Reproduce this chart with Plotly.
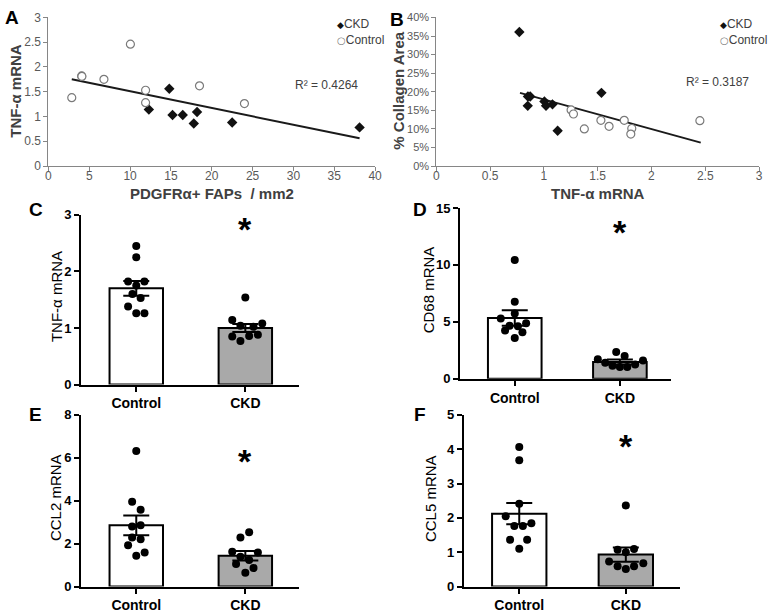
import plotly.graph_objects as go

W, H = 769, 616
FONT = "Liberation Sans, Arial, Helvetica, sans-serif"

# ---------------- data ----------------
# Panel A: TNF-a mRNA vs PDGFRa+ FAPs / mm2
a_ckd_fap = [14.8, 12.3, 15.2, 16.45, 18.2, 17.8, 22.5, 38.1]
a_ckd_tnf = [1.56, 1.14, 1.03, 1.03, 1.09, 0.86, 0.88, 0.78]
a_ctl_fap = [2.86, 4.07, 4.1, 6.8, 10.04, 11.9, 11.9, 18.5, 24.0]
a_ctl_tnf = [1.38, 1.82, 1.81, 1.75, 2.46, 1.53, 1.28, 1.62, 1.26]
a_trend_x = [2.86, 38.1]
a_trend_y = [1.75, 0.56]
a_r2 = "R² = 0.4264"

# Panel B: % collagen area vs TNF-a mRNA
b_ckd_tnf = [0.772, 0.85, 0.852, 0.873, 1.005, 1.02, 1.08, 1.128, 1.535]
b_ckd_col = [0.361, 0.162, 0.187, 0.187, 0.174, 0.162, 0.166, 0.095, 0.197]
b_ctl_tnf = [1.253, 1.275, 1.376, 1.53, 1.606, 1.747, 1.817, 1.808, 2.45]
b_ctl_col = [0.151, 0.140, 0.100, 0.123, 0.107, 0.123, 0.101, 0.086, 0.122]
b_trend_x = [0.778, 2.458]
b_trend_y = [0.197, 0.063]
b_r2 = "R² = 0.3187"

legend_names = ["CKD", "Control"]
groups = ["Control", "CKD"]

# Panel C: TNF-a mRNA
c_mean = [1.70, 1.00]
c_sem = [0.13, 0.07]
c_ctl = [2.45, 2.25, 1.82, 1.82, 1.75, 1.60, 1.53, 1.38, 1.26, 1.26]
c_ctl_jit = [0.0, 0.0, -0.075, 0.075, 0.0, -0.035, 0.04, -0.075, 0.0, 0.075]
c_ckd = [1.54, 1.14, 1.08, 1.02, 1.04, 0.85, 0.86, 0.88, 0.77]
c_ckd_jit = [0.0, -0.12, 0.155, 0.075, -0.045, -0.12, 0.035, 0.115, -0.045]

# Panel D: CD68 mRNA
d_mean = [5.33, 1.46]
d_sem = [0.68, 0.22]
d_ctl = [10.43, 6.77, 5.74, 5.28, 4.88, 4.66, 4.60, 4.23, 4.08, 3.57]
d_ctl_jit = [0.0, 0.0, 0.0, -0.133, 0.108, -0.049, 0.03, -0.092, 0.073, 0.0]
d_ckd = [2.34, 2.00, 1.71, 1.60, 1.40, 1.26, 1.14, 1.03, 1.03]
d_ckd_jit = [-0.035, 0.045, -0.21, 0.22, -0.14, 0.145, -0.07, 0.0, 0.07]

# Panel E: CCL2 mRNA
e_mean = [2.85, 1.43]
e_sem = [0.46, 0.22]
e_ctl = [6.32, 3.95, 3.58, 2.80, 2.86, 2.29, 2.20, 1.92, 1.59, 1.44]
e_ctl_jit = [0.0, -0.038, 0.04, -0.038, 0.04, -0.038, 0.04, -0.075, 0.077, 0.0]
e_ckd = [2.53, 2.29, 1.62, 1.59, 1.39, 1.24, 1.05, 0.86, 0.64]
e_ckd_jit = [0.035, -0.045, -0.12, 0.115, -0.045, 0.035, -0.085, 0.075, 0.0]

# Panel F: CCL5 mRNA
f_mean = [2.12, 0.93]
f_sem = [0.31, 0.21]
f_ctl = [4.06, 3.68, 2.41, 2.05, 1.84, 1.76, 1.76, 1.36, 1.36, 1.10]
f_ctl_jit = [0.0, 0.0, 0.0, -0.127, 0.114, -0.046, 0.034, -0.086, 0.074, 0.0]
f_ckd = [2.36, 1.07, 1.09, 1.00, 0.73, 0.68, 0.59, 0.51, 0.59]
f_ckd_jit = [0.0, -0.077, 0.077, 0.0, -0.157, 0.164, -0.077, 0.0, 0.077]

star_y = {"C": 2.87, "D": 13.5, "E": 6.17, "F": 4.3}


def px(x):
    return x / W


def py(y):
    return 1 - y / H


fig = go.Figure()
annotations = []

GRAY_AX = "#868686"
GRAY_TXT = "#595959"
DARK_TXT = "#404040"

# ---------------- scatter panels ----------------
def scatter_panel(idx, ckd_x, ckd_y, ctl_x, ctl_y, tx, ty):
    xa = "x" if idx == 1 else f"x{idx}"
    ya = "y" if idx == 1 else f"y{idx}"
    fig.add_trace(go.Scatter(x=tx, y=ty, mode="lines", xaxis=xa, yaxis=ya,
                             line=dict(color="#1a1a1a", width=2), showlegend=False,
                             hoverinfo="skip"))
    fig.add_trace(go.Scatter(x=ckd_x, y=ckd_y, mode="markers", name=legend_names[0],
                             xaxis=xa, yaxis=ya, showlegend=False,
                             marker=dict(symbol="diamond", size=8, color="#111111")))
    fig.add_trace(go.Scatter(x=ctl_x, y=ctl_y, mode="markers", name=legend_names[1],
                             xaxis=xa, yaxis=ya, showlegend=False,
                             marker=dict(symbol="circle", size=8, color="white",
                                         line=dict(color="#7a7a7a", width=1.2))))


scatter_panel(1, a_ckd_fap, a_ckd_tnf, a_ctl_fap, a_ctl_tnf, a_trend_x, a_trend_y)
scatter_panel(2, b_ckd_tnf, b_ckd_col, b_ctl_tnf, b_ctl_col, b_trend_x, b_trend_y)

sc_axis = dict(showline=True, linecolor=GRAY_AX, linewidth=1, ticks="outside",
               ticklen=4, tickcolor=GRAY_AX, showgrid=False, zeroline=False,
               tickfont=dict(family=FONT, size=12, color=GRAY_TXT))

layout = dict(
    width=W, height=H, margin=dict(l=0, r=0, t=0, b=0),
    paper_bgcolor="white", plot_bgcolor="white", showlegend=False,
    font=dict(family=FONT),
    xaxis=dict(sc_axis, domain=[px(46), px(377)], range=[0, 40], dtick=5, anchor="y",
               ticklabelstandoff=-5),
    yaxis=dict(sc_axis, domain=[py(163), py(10.7)], range=[0, 3], dtick=0.5, anchor="x"),
    xaxis2=dict(sc_axis, domain=[px(439), px(766)], range=[0, 3], dtick=0.5, anchor="y2",
                ticklabelstandoff=-5),
    yaxis2=dict(sc_axis, domain=[py(163), py(10.7)], range=[0, 0.4], dtick=0.05,
                tickformat=".0%", anchor="x2",
                tickfont=dict(family=FONT, size=11, color=GRAY_TXT)),
)

annotations += [
    dict(text=a_r2, xref="x", yref="y", x=30, y=1.64, xanchor="left", yanchor="middle",
         showarrow=False, font=dict(family=FONT, size=12, color=DARK_TXT)),
    dict(text=b_r2, xref="x2", yref="y2", x=2.3, y=0.225, xanchor="left", yanchor="middle",
         showarrow=False, font=dict(family=FONT, size=12, color=DARK_TXT)),
]

# legends (drawn as text with symbol glyphs)
for lx in (336, 724):
    annotations.append(dict(
        text=f"<span style='font-family:DejaVu Sans;font-size:9px;color:#111'>◆</span>{legend_names[0]}",
        xref="paper", yref="paper", x=px(lx), y=py(17), xanchor="left", yanchor="middle",
        showarrow=False, font=dict(family=FONT, size=12, color=DARK_TXT)))
    annotations.append(dict(
        text=f"<span style='font-family:DejaVu Sans;font-size:10px;color:#7a7a7a'>○</span>{legend_names[1]}",
        xref="paper", yref="paper", x=px(lx), y=py(34), xanchor="left", yanchor="middle",
        showarrow=False, font=dict(family=FONT, size=12, color=DARK_TXT)))

# ---------------- bar panels ----------------
bar_panels = [
    (3, c_mean, c_sem, c_ctl, c_ctl_jit, c_ckd, c_ckd_jit, [0, 3], 1, [-0.507, 1.493], 0.49,
     [px(79), px(300)], [py(387), py(213)], "C"),
    (4, d_mean, d_sem, d_ctl, d_ctl_jit, d_ckd, d_ckd_jit, [0, 15], 5, [-0.521, 1.488], 0.51,
     [px(463), px(677)], [py(381), py(206)], "D"),
    (5, e_mean, e_sem, e_ctl, e_ctl_jit, e_ckd, e_ckd_jit, [0, 8], 2, [-0.507, 1.493], 0.49,
     [px(79), px(300)], [py(594), py(418)], "E"),
    (6, f_mean, f_sem, f_ctl, f_ctl_jit, f_ckd, f_ckd_jit, [0, 5], 1, [-0.519, 1.509], 0.51,
     [px(467), px(686)], [py(594), py(418)], "F"),
]

bar_axis = dict(showline=True, linecolor="black", linewidth=2, ticks="outside",
                ticklen=5, tickwidth=2, tickcolor="black", showgrid=False, zeroline=False,
                tickfont=dict(family=FONT, size=13, color="black", weight="bold"))

for (idx, mean, sem, ctl, ctl_jit, ckd, ckd_jit, yr, dt, xr, bw, dx, dy, key) in bar_panels:
    xa, ya = f"x{idx}", f"y{idx}"
    fig.add_trace(go.Bar(x=[0, 1], y=mean, width=bw, xaxis=xa, yaxis=ya, showlegend=False,
                         marker=dict(color=["white", "#a9a9a9"],
                                     line=dict(color="black", width=2)),
                         error_y=dict(type="data", array=sem, color="black",
                                      thickness=2, width=13)))
    fig.add_trace(go.Scatter(x=[0 + j for j in ctl_jit], y=ctl, mode="markers",
                             xaxis=xa, yaxis=ya, showlegend=False,
                             marker=dict(size=8, color="black")))
    fig.add_trace(go.Scatter(x=[1 + j for j in ckd_jit], y=ckd, mode="markers",
                             xaxis=xa, yaxis=ya, showlegend=False,
                             marker=dict(size=8, color="black")))
    layout[f"xaxis{idx}"] = dict(bar_axis, domain=dx, range=xr, tickvals=[0, 1],
                                 ticktext=groups, anchor=ya,
                                 tickfont=dict(family=FONT, size=14, color="black",
                                               weight="bold"))
    layout[f"yaxis{idx}"] = dict(bar_axis, domain=dy, range=yr, dtick=dt, anchor=xa)
    annotations.append(dict(text="*", xref=xa, yref=ya, x=1, y=star_y[key],
                            xanchor="center", yanchor="middle", yshift=-7, showarrow=False,
                            font=dict(family=FONT, size=34, color="black", weight="bold")))

# ---------------- axis titles & panel letters ----------------
def title(text, x, y, angle=0, size=14, bold=True, color=DARK_TXT):
    annotations.append(dict(text=text, xref="paper", yref="paper", x=px(x), y=py(y),
                            xanchor="center", yanchor="middle", textangle=angle,
                            showarrow=False,
                            font=dict(family=FONT, size=size, color=color,
                                      weight="bold" if bold else "normal")))

title("TNF-α mRNA", 13, 86, -90, 15)
title("PDGFRα+ FAPs  / mm2", 212, 191, 0, 15)
title("% Collagen Area", 401, 86, -90, 15)
title("TNF-α mRNA", 603, 191, 0, 15)
title("TNF-α mRNA", 54, 297, -90, 15, False, "black")
title("CD68 mRNA", 432, 290, -90, 15, False, "black")
title("CCL2 mRNA", 53, 503, -90, 15, False, "black")
title("CCL5 mRNA", 433, 504, -90, 15, False, "black")

for letter, x, y in [("A", 9, 11), ("B", 399, 13), ("C", 33, 208), ("D", 422, 208),
                     ("E", 33, 418), ("F", 422, 418)]:
    title(letter, x, y, 0, 19, True, "black")

layout["annotations"] = annotations
fig.update_layout(**layout)
fig.write_html("out.html", config={"displayModeBar": False},
               post_script="document.body.style.margin='0';")
